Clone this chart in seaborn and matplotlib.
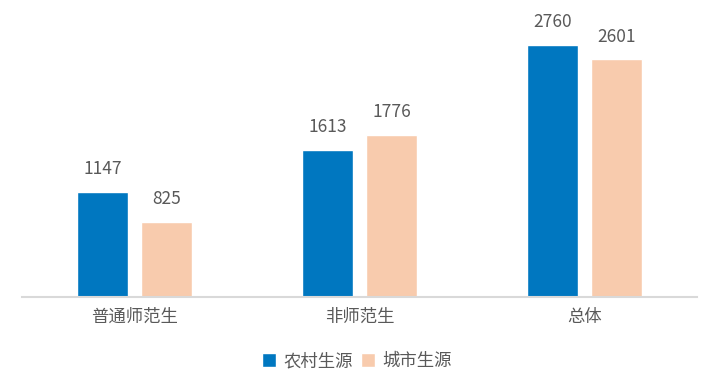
import pandas as pd
import matplotlib.pyplot as plt
import seaborn as sns

# data
categories = ["普通师范生", "非师范生", "总体"]
series_names = ["农村生源", "城市生源"]
rural = [1147, 1613, 2760]
urban = [825, 1776, 2601]

palette = ["#0077C0", "#F8CBAD"]

df = pd.DataFrame({
    "类别": categories * 2,
    "生源": [series_names[0]] * 3 + [series_names[1]] * 3,
    "人数": rural + urban,
})

sns.set_theme(style="white")
plt.rcParams["font.family"] = ["Noto Sans CJK SC", "DejaVu Sans"]

fig = plt.figure(figsize=(7.2, 3.91), dpi=100)
ax = fig.add_axes([22 / 720, 94 / 391, 675 / 720, 274 / 391])

sns.barplot(
    data=df, x="类别", y="人数", hue="生源",
    palette=palette, width=0.569, gap=0.2, ax=ax,
    saturation=1, legend=True,
)

for cont in ax.containers:
    ax.bar_label(cont, padding=10, fontsize=12.5, color="#595959")

ax.set_ylim(0, 3000)
ax.set_xlabel("")
ax.set_ylabel("")
ax.set_yticks([])
ax.tick_params(axis="x", length=0, labelsize=12.5, labelcolor="#595959", pad=8)
for side in ["top", "right", "left"]:
    ax.spines[side].set_visible(False)
ax.spines["bottom"].set_color("#D9D9D9")
ax.spines["bottom"].set_linewidth(1.5)

handles, labels = ax.get_legend_handles_labels()
ax.legend(
    handles, labels, loc="center", bbox_to_anchor=(335 / 675, -64 / 274),
    ncol=2, frameon=False, fontsize=12.5, labelcolor="#595959",
    handlelength=0.8, handleheight=0.8, handletextpad=0.4, columnspacing=0.5,
)

fig.savefig("out.png", dpi=100)
